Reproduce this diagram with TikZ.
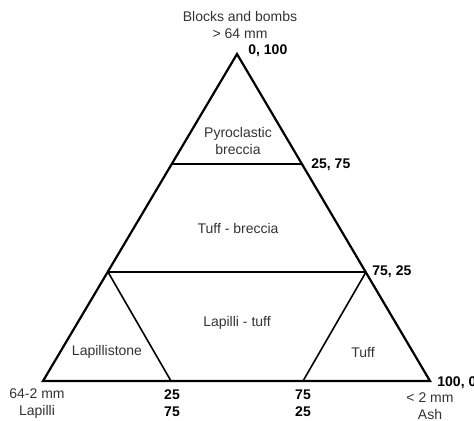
\documentclass[tikz,border=0pt]{standalone}
\usepackage{fontspec}
\setmainfont{Liberation Sans}

\tikzset{
  rim/.style={black, line width=1.1pt, line join=miter},
  split/.style={black, line width=0.8pt},
  lbl/.style={font=\fontsize{7}{8.5}\selectfont, text=black!80, inner sep=0pt, align=center},
  val/.style={font=\fontsize{7}{8.5}\selectfont\bfseries, inner sep=0pt, align=center}
}

\begin{document}
\begin{tikzpicture}[x=0.5pt, y=0.5pt]
    \useasboundingbox (0,0) rectangle (474,420);

    % corners of the triangle
    \coordinate (lap) at (43,39);
    \coordinate (ash) at (430,39);
    \coordinate (blk) at (237,366);

    % points on the sides (thirds)
    \coordinate (up1) at (172,256);
    \coordinate (up2) at (302,256);
    \coordinate (lo1) at (108,148);
    \coordinate (lo2) at (366,148);
    \coordinate (ba1) at (171,39);
    \coordinate (ba2) at (303,39);

    % outline and field boundaries
    \draw[rim] (lap) -- (ash) -- (blk) -- cycle;
    \draw[split] (up1) -- (up2);
    \draw[split] (lo1) -- (lo2);
    \draw[split] (lo1) -- (ba1);
    \draw[split] (lo2) -- (ba2);

    % end members
    \node[lbl] (tblk) at (240,395.5) {Blocks and bombs\\> 64 mm};
    \node[lbl] (tlap) at (37,16.5) {64-2 mm\\Lapilli};
    \node[lbl] (tash) at (430,13.5) {< 2 mm\\Ash};

    % field names
    \node[lbl] (fpyr) at (238,279) {Pyroclastic\\breccia};
    \node[lbl] (ftbr) at (238,192) {Tuff - breccia};
    \node[lbl] (fltf) at (237,97) {Lapilli - tuff};
    \node[lbl] (flst) at (107,68) {Lapillistone};
    \node[lbl] (ftuf) at (363,68) {Tuff};

    % percentages
    \node[val, anchor=west] (p0) at (248,369) {0, 100};
    \node[val, anchor=west] (p1) at (311,255) {25, 75};
    \node[val, anchor=west] (p2) at (372,148) {75, 25};
    \node[val, anchor=west] (p3) at (437,37) {100, 0};
    \node[val] (q1) at (172,17) {25\\75};
    \node[val] (q2) at (303,17) {75\\25};
\end{tikzpicture}
\end{document}
